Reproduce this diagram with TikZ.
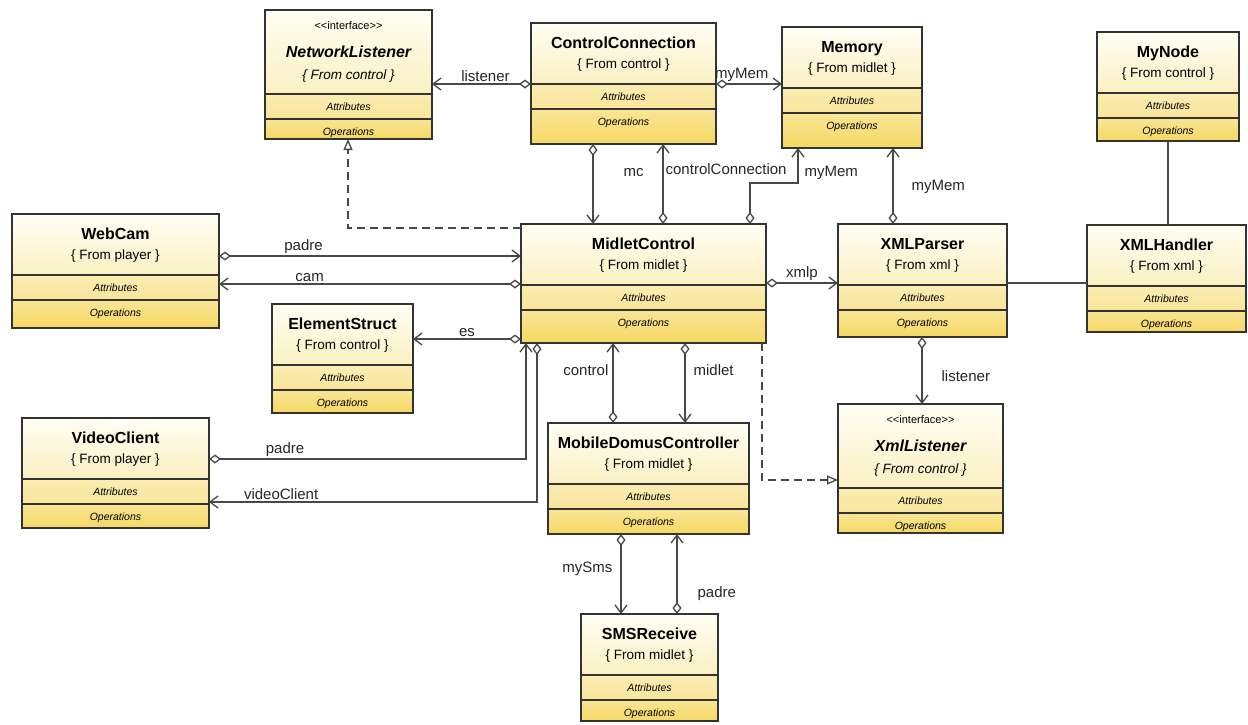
\documentclass[tikz,border=0pt]{standalone}
\usepackage{fontspec}
\setmainfont{Liberation Sans}
\usetikzlibrary{arrows.meta,positioning}

\definecolor{hdtop}{HTML}{FFFEF4}
\definecolor{hdbot}{HTML}{FBF0C2}
\definecolor{attop}{HTML}{FBEDB2}
\definecolor{atbot}{HTML}{F9E49A}
\definecolor{optop}{HTML}{F9E596}
\definecolor{opbot}{HTML}{F5D862}
\definecolor{boxgray}{HTML}{333333}
\definecolor{linegray}{HTML}{484848}

\tikzset{
  classbox/.style={draw=boxgray, line width=1.2pt, inner sep=0pt, outer sep=0pt},
  sepline/.style={draw=boxgray, line width=1.1pt},
  classname/.style={font=\fontsize{16}{19}\selectfont\bfseries, anchor=base, inner sep=0pt},
  ifacename/.style={classname, font=\fontsize{16}{19}\selectfont\bfseries\itshape},
  classpkg/.style={font=\fontsize{13.5}{16}\selectfont, anchor=base, inner sep=0pt},
  ifacepkg/.style={classpkg, font=\fontsize{13.5}{16}\selectfont\itshape},
  stereo/.style={font=\fontsize{11}{13}\selectfont, anchor=base, inner sep=0pt},
  compart/.style={font=\fontsize{10.5}{12}\selectfont\itshape, anchor=base, inner sep=0pt},
  lbl/.style={font=\fontsize{15}{18}\selectfont, inner sep=2pt, text=black!85},
  assoc/.style={draw=linegray, line width=1.3pt,
    {Diamond[length=12pt,width=9pt,fill=white]}-{Straight Barb[length=8pt,width=12pt]}},
  realize/.style={draw=linegray, line width=1.3pt, dash pattern=on 8pt off 5pt,
    -{Triangle[open,length=11pt,width=9pt,fill=white]}},
  plainlink/.style={draw=linegray, line width=1.3pt},
}

% #1 name, #2 left, #3 top, #4 width, #5 ops height, #6 title, #7 package
\newcommand{\umlclass}[7]{%
  \shade[top color=hdtop, bottom color=hdbot] (#2,#3) rectangle ++(#4,61);
  \shade[top color=attop, bottom color=atbot] (#2,{#3+61}) rectangle ++(#4,25);
  \shade[top color=optop, bottom color=opbot] (#2,{#3+86}) rectangle ++(#4,#5);
  \draw[sepline] (#2,{#3+61}) -- ++(#4,0) (#2,{#3+86}) -- ++(#4,0);
  \node[classbox, anchor=north west, minimum width={#4*1pt},
    minimum height={(86+#5)*1pt}] (#1) at (#2,#3) {};
  \node[classname] at ({#2+#4/2},{#3+25}) {#6};
  \node[classpkg] at ({#2+#4/2},{#3+45}) {\{ From #7 \}};
  \node[compart] at ({#2+#4/2},{#3+77}) {Attributes};
  \node[compart] at ({#2+#4/2},{#3+102}) {Operations};
}

% same, with the interface header
\newcommand{\umlinterface}[7]{%
  \shade[top color=hdtop, bottom color=hdbot] (#2,#3) rectangle ++(#4,84);
  \shade[top color=attop, bottom color=atbot] (#2,{#3+84}) rectangle ++(#4,25);
  \shade[top color=optop, bottom color=opbot] (#2,{#3+109}) rectangle ++(#4,#5);
  \draw[sepline] (#2,{#3+84}) -- ++(#4,0) (#2,{#3+109}) -- ++(#4,0);
  \node[classbox, anchor=north west, minimum width={#4*1pt},
    minimum height={(109+#5)*1pt}] (#1) at (#2,#3) {};
  \node[stereo] at ({#2+#4/2},{#3+19}) {<{}<interface>{}>};
  \node[ifacename] at ({#2+#4/2},{#3+47}) {#6};
  \node[ifacepkg] at ({#2+#4/2},{#3+69}) {\{ From #7 \}};
  \node[compart] at ({#2+#4/2},{#3+100}) {Attributes};
  \node[compart] at ({#2+#4/2},{#3+125}) {Operations};
}

\begin{document}
\begin{tikzpicture}[x=1pt,y=-1pt]
\useasboundingbox[fill=white] (0,0) rectangle (1248,724);

% classes
\umlinterface{NL}{265}{10}{167}{20}{NetworkListener}{control}
\umlclass{CC}{531}{23}{185}{35}{ControlConnection}{control}
\umlclass{Mem}{782}{27}{140}{35}{Memory}{midlet}
\umlclass{MyNode}{1097}{32}{142}{23}{MyNode}{control}
\umlclass{WebCam}{12}{214}{207}{28}{WebCam}{player}
\umlclass{MC}{521}{224}{245}{33}{MidletControl}{midlet}
\umlclass{XP}{838}{224}{169}{27}{XMLParser}{xml}
\umlclass{XH}{1087}{225}{159}{21}{XMLHandler}{xml}
\umlclass{ES}{272}{304}{141}{23}{ElementStruct}{control}
\umlclass{VC}{22}{418}{187}{24}{VideoClient}{player}
\umlclass{MDC}{548}{423}{201}{25}{MobileDomusController}{midlet}
\umlinterface{XmlL}{838}{404}{165}{20}{XmlListener}{control}
\umlclass{SMS}{581}{614}{137}{21}{SMSReceive}{midlet}

% associations
\draw[assoc] ([yshift=-61pt]CC.north west) -- node[lbl, above, pos=0.46]{listener} ([yshift=-74pt]NL.north east);
\draw[assoc] ([yshift=-61pt]CC.north east) -- node[lbl, above, pos=0.39]{myMem} ([yshift=-57pt]Mem.north west);
\draw[assoc] ([xshift=62pt]CC.south west) -- node[lbl, pos=0.36, right=28pt]{mc} ([xshift=72pt]MC.north west);
\draw[assoc] ([xshift=142pt]MC.north west) -- node[lbl, pos=0.69, right=0pt]{controlConnection} ([xshift=132pt]CC.south west);
\draw[assoc] ([xshift=229pt]MC.north west) -- ++(0,-41) -| node[lbl, pos=0.65, right=4pt]{myMem} ([xshift=16pt]Mem.south west);
\draw[assoc] ([xshift=55pt]XP.north west) -- node[lbl, pos=0.49, right=16pt]{myMem} ([xshift=111pt]Mem.south west);
\draw[assoc] ([yshift=-42pt]WebCam.north east) -- node[lbl, pos=0.28, above]{padre} ([yshift=-32pt]MC.north west);
\draw[assoc] ([yshift=-60pt]MC.north west) -- node[lbl, pos=0.7, above]{cam} ([yshift=-70pt]WebCam.north east);
\draw[assoc] ([yshift=4pt]MC.south west) -- node[lbl, above]{es} ([yshift=-35pt]ES.north east);
\draw[assoc] ([yshift=-41pt]VC.north east) -| node[lbl, pos=0.12, above]{padre} ([xshift=5pt]MC.south west);
\draw[assoc] ([xshift=16pt]MC.south west) |- node[lbl, pos=0.89, above]{videoClient} ([yshift=-84pt]VC.north east);
\draw[assoc] ([yshift=-59pt]MC.north east) -- node[lbl, above]{xmlp} ([yshift=-59pt]XP.north west);
\draw[assoc] ([xshift=84pt]XP.south west) -- node[lbl, pos=0.58, right=17pt]{listener} ([xshift=84pt]XmlL.north west);
\draw[assoc] ([xshift=65pt]MDC.north west) -- node[lbl, pos=0.66, left=2pt]{control} ([xshift=92pt]MC.south west);
\draw[assoc] ([xshift=164pt]MC.south west) -- node[lbl, pos=0.34, right=6pt]{midlet} ([xshift=137pt]MDC.north west);
\draw[assoc] ([xshift=73pt]MDC.south west) -- node[lbl, pos=0.43, left=6pt]{mySms} ([xshift=40pt]SMS.north west);
\draw[assoc] ([xshift=96pt]SMS.north west) -- node[lbl, pos=0.25, right=18pt]{padre} ([xshift=129pt]MDC.south west);

% plain links
\draw[plainlink] ([yshift=-59pt]XP.north east) -- ([yshift=-58pt]XH.north west);
\draw[plainlink] (MyNode.south) -- (MyNode.south |- XH.north);

% realizations
\draw[realize] ([yshift=-4pt]MC.north west) -| ([xshift=83pt]NL.south west);
\draw[realize] ([xshift=-4pt]MC.south east) |- ([yshift=-76pt]XmlL.north west);
\end{tikzpicture}
\end{document}
